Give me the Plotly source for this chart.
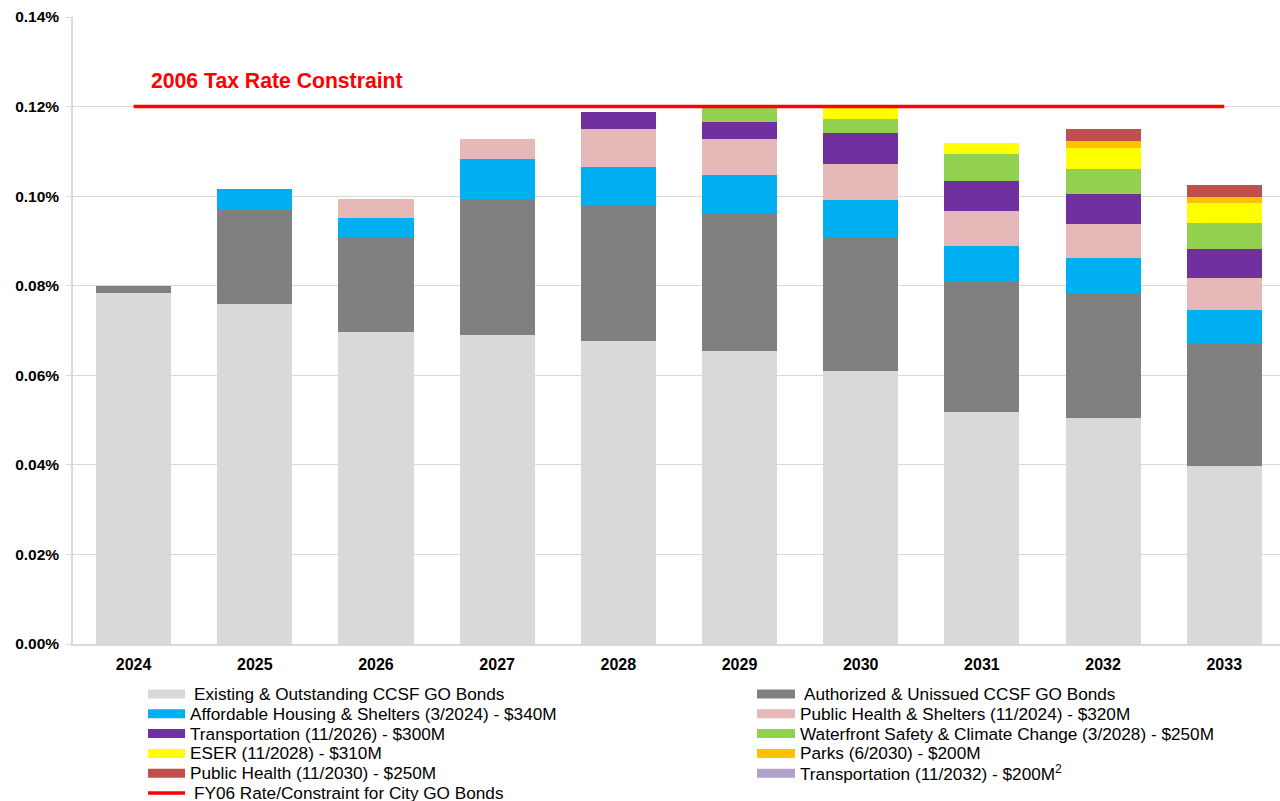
import plotly.graph_objects as go

# ---------------- data (values in percent) ----------------
years = ["2024", "2025", "2026", "2027", "2028", "2029", "2030", "2031", "2032", "2033"]

series_names = [
    "Existing & Outstanding CCSF GO Bonds",
    "Authorized & Unissued CCSF GO Bonds",
    "Affordable Housing & Shelters (3/2024) - $340M",
    "Public Health & Shelters (11/2024) - $320M",
    "Transportation (11/2026) - $300M",
    "Waterfront Safety & Climate Change (3/2028) - $250M",
    "ESER (11/2028) - $310M",
    "Parks (6/2030) - $200M",
    "Public Health (11/2030) - $250M",
    "Transportation (11/2032) - $200M<sup>2</sup>",
]

existing = [0.0783, 0.0760, 0.0696, 0.0690, 0.0677, 0.0655, 0.0610, 0.0519, 0.0504, 0.0397]
authorized = [0.0017, 0.0210, 0.0210, 0.0304, 0.0300, 0.0306, 0.0298, 0.0289, 0.0280, 0.0273]
affordable_housing = [0, 0.0046, 0.0045, 0.0089, 0.0088, 0.0086, 0.0084, 0.0081, 0.0078, 0.0076]
public_health_shelters = [0, 0, 0.0042, 0.0044, 0.0085, 0.0081, 0.0079, 0.0077, 0.0075, 0.0072]
transportation_2026 = [0, 0, 0, 0, 0.0037, 0.0037, 0.0070, 0.0068, 0.0067, 0.0064]
waterfront = [0, 0, 0, 0, 0, 0.0033, 0.0031, 0.0060, 0.0057, 0.0057]
eser = [0, 0, 0, 0, 0, 0, 0.0025, 0.0024, 0.0047, 0.0045]
parks = [0, 0, 0, 0, 0, 0, 0, 0, 0.0015, 0.0014]
public_health_2030 = [0, 0, 0, 0, 0, 0, 0, 0, 0.0027, 0.0027]
transportation_2032 = [0, 0, 0, 0, 0, 0, 0, 0, 0, 0]

constraint_name = "FY06 Rate/Constraint for City GO Bonds"
constraint_rate = [0.12] * len(years)
constraint_label = "2006 Tax Rate Constraint"

y_ticks = [0.0, 0.02, 0.04, 0.06, 0.08, 0.10, 0.12, 0.14]
y_tick_labels = ["0.00%", "0.02%", "0.04%", "0.06%", "0.08%", "0.10%", "0.12%", "0.14%"]

# ---------------- styling ----------------
colors = ["#D9D9D9", "#808080", "#00B0F0", "#E6B9B8", "#7030A0",
          "#92D050", "#FFFF00", "#FFC000", "#C0504D", "#B1A0C7"]
red = "#FF0000"
FONT = "Liberation Sans, Arial, sans-serif"

W, H = 1280, 801
L, R, T, B = 73, 1280, 17, 644


def px_x(x):
    return (x - L) / (R - L)


def px_y(y):
    return (B - y) / (B - T)


all_series = [existing, authorized, affordable_housing, public_health_shelters,
              transportation_2026, waterfront, eser, parks, public_health_2030,
              transportation_2032]

fig = go.Figure()
for name, vals, col in zip(series_names, all_series, colors):
    fig.add_trace(go.Bar(x=years, y=vals, name=name, marker=dict(color=col, line=dict(width=0)),
                         width=0.62, showlegend=False))

fig.add_trace(go.Scatter(x=years, y=constraint_rate, name=constraint_name, mode="lines",
                         line=dict(color=red, width=3.5), showlegend=False))

fig.add_annotation(x=0.13, y=0.1259, xref="x", yref="y", text=constraint_label,
                   showarrow=False, xanchor="left", yanchor="middle",
                   font=dict(family=FONT, size=21.2, color=red, weight="bold"))

# ---------------- manual two-column legend ----------------
left_items = [0, 2, 4, 6, 8]
right_items = [1, 3, 5, 7, 9]
row0, row_step = 694.0, 19.8
for col_items, sx0, sx1, tx in [(left_items, 148, 185, 189), (right_items, 757, 795, 799)]:
    for r, idx in enumerate(col_items):
        yc = row0 + r * row_step
        fig.add_shape(type="rect", xref="paper", yref="paper",
                      x0=px_x(sx0), x1=px_x(sx1), y0=px_y(yc + 4.5), y1=px_y(yc - 4.5),
                      fillcolor=colors[idx], line=dict(width=0), layer="above")
        lbl = series_names[idx]
        extra = 4 if r == 0 else 0
        fig.add_annotation(x=px_x(tx + extra), y=px_y(yc), xref="paper", yref="paper",
                           text=lbl, showarrow=False, xanchor="left", yanchor="middle",
                           borderpad=0, font=dict(family=FONT, size=17.2, color="#000000"))

yc = row0 + 5 * row_step
fig.add_shape(type="line", xref="paper", yref="paper", x0=px_x(148), x1=px_x(185),
              y0=px_y(yc), y1=px_y(yc), line=dict(color=red, width=3.5))
fig.add_annotation(x=px_x(193), y=px_y(yc), xref="paper", yref="paper",
                   text=constraint_name, showarrow=False, xanchor="left", yanchor="middle",
                   borderpad=0, font=dict(family=FONT, size=17.2, color="#000000"))

fig.update_layout(
    width=W, height=H,
    margin=dict(l=L, r=W - R, t=T, b=H - B, pad=0),
    paper_bgcolor="white", plot_bgcolor="white",
    barmode="stack", bargap=0.38,
    showlegend=False,
    font=dict(family=FONT, color="#000000"),
)
fig.update_xaxes(
    type="category", range=[-0.5, 9.46],
    showline=True, linecolor="#D9D9D9", linewidth=1.5,
    showgrid=False, ticks="", ticklabelstandoff=5,
    tickfont=dict(family=FONT, size=16, color="#000000", weight="bold"),
)
fig.update_yaxes(
    range=[0, 0.14], tickmode="array", tickvals=y_ticks, ticktext=y_tick_labels,
    showline=True, linecolor="#D9D9D9", linewidth=1.5,
    showgrid=True, gridcolor="#D9D9D9", gridwidth=1.3,
    ticks="outside", ticklen=5, tickcolor="#D9D9D9",
    zeroline=False, ticklabelstandoff=4,
    tickfont=dict(family=FONT, size=15.5, color="#000000", weight="bold"),
)

fig.write_html("out.html", config={"displayModeBar": False},
               post_script="document.body.style.margin='0';")
